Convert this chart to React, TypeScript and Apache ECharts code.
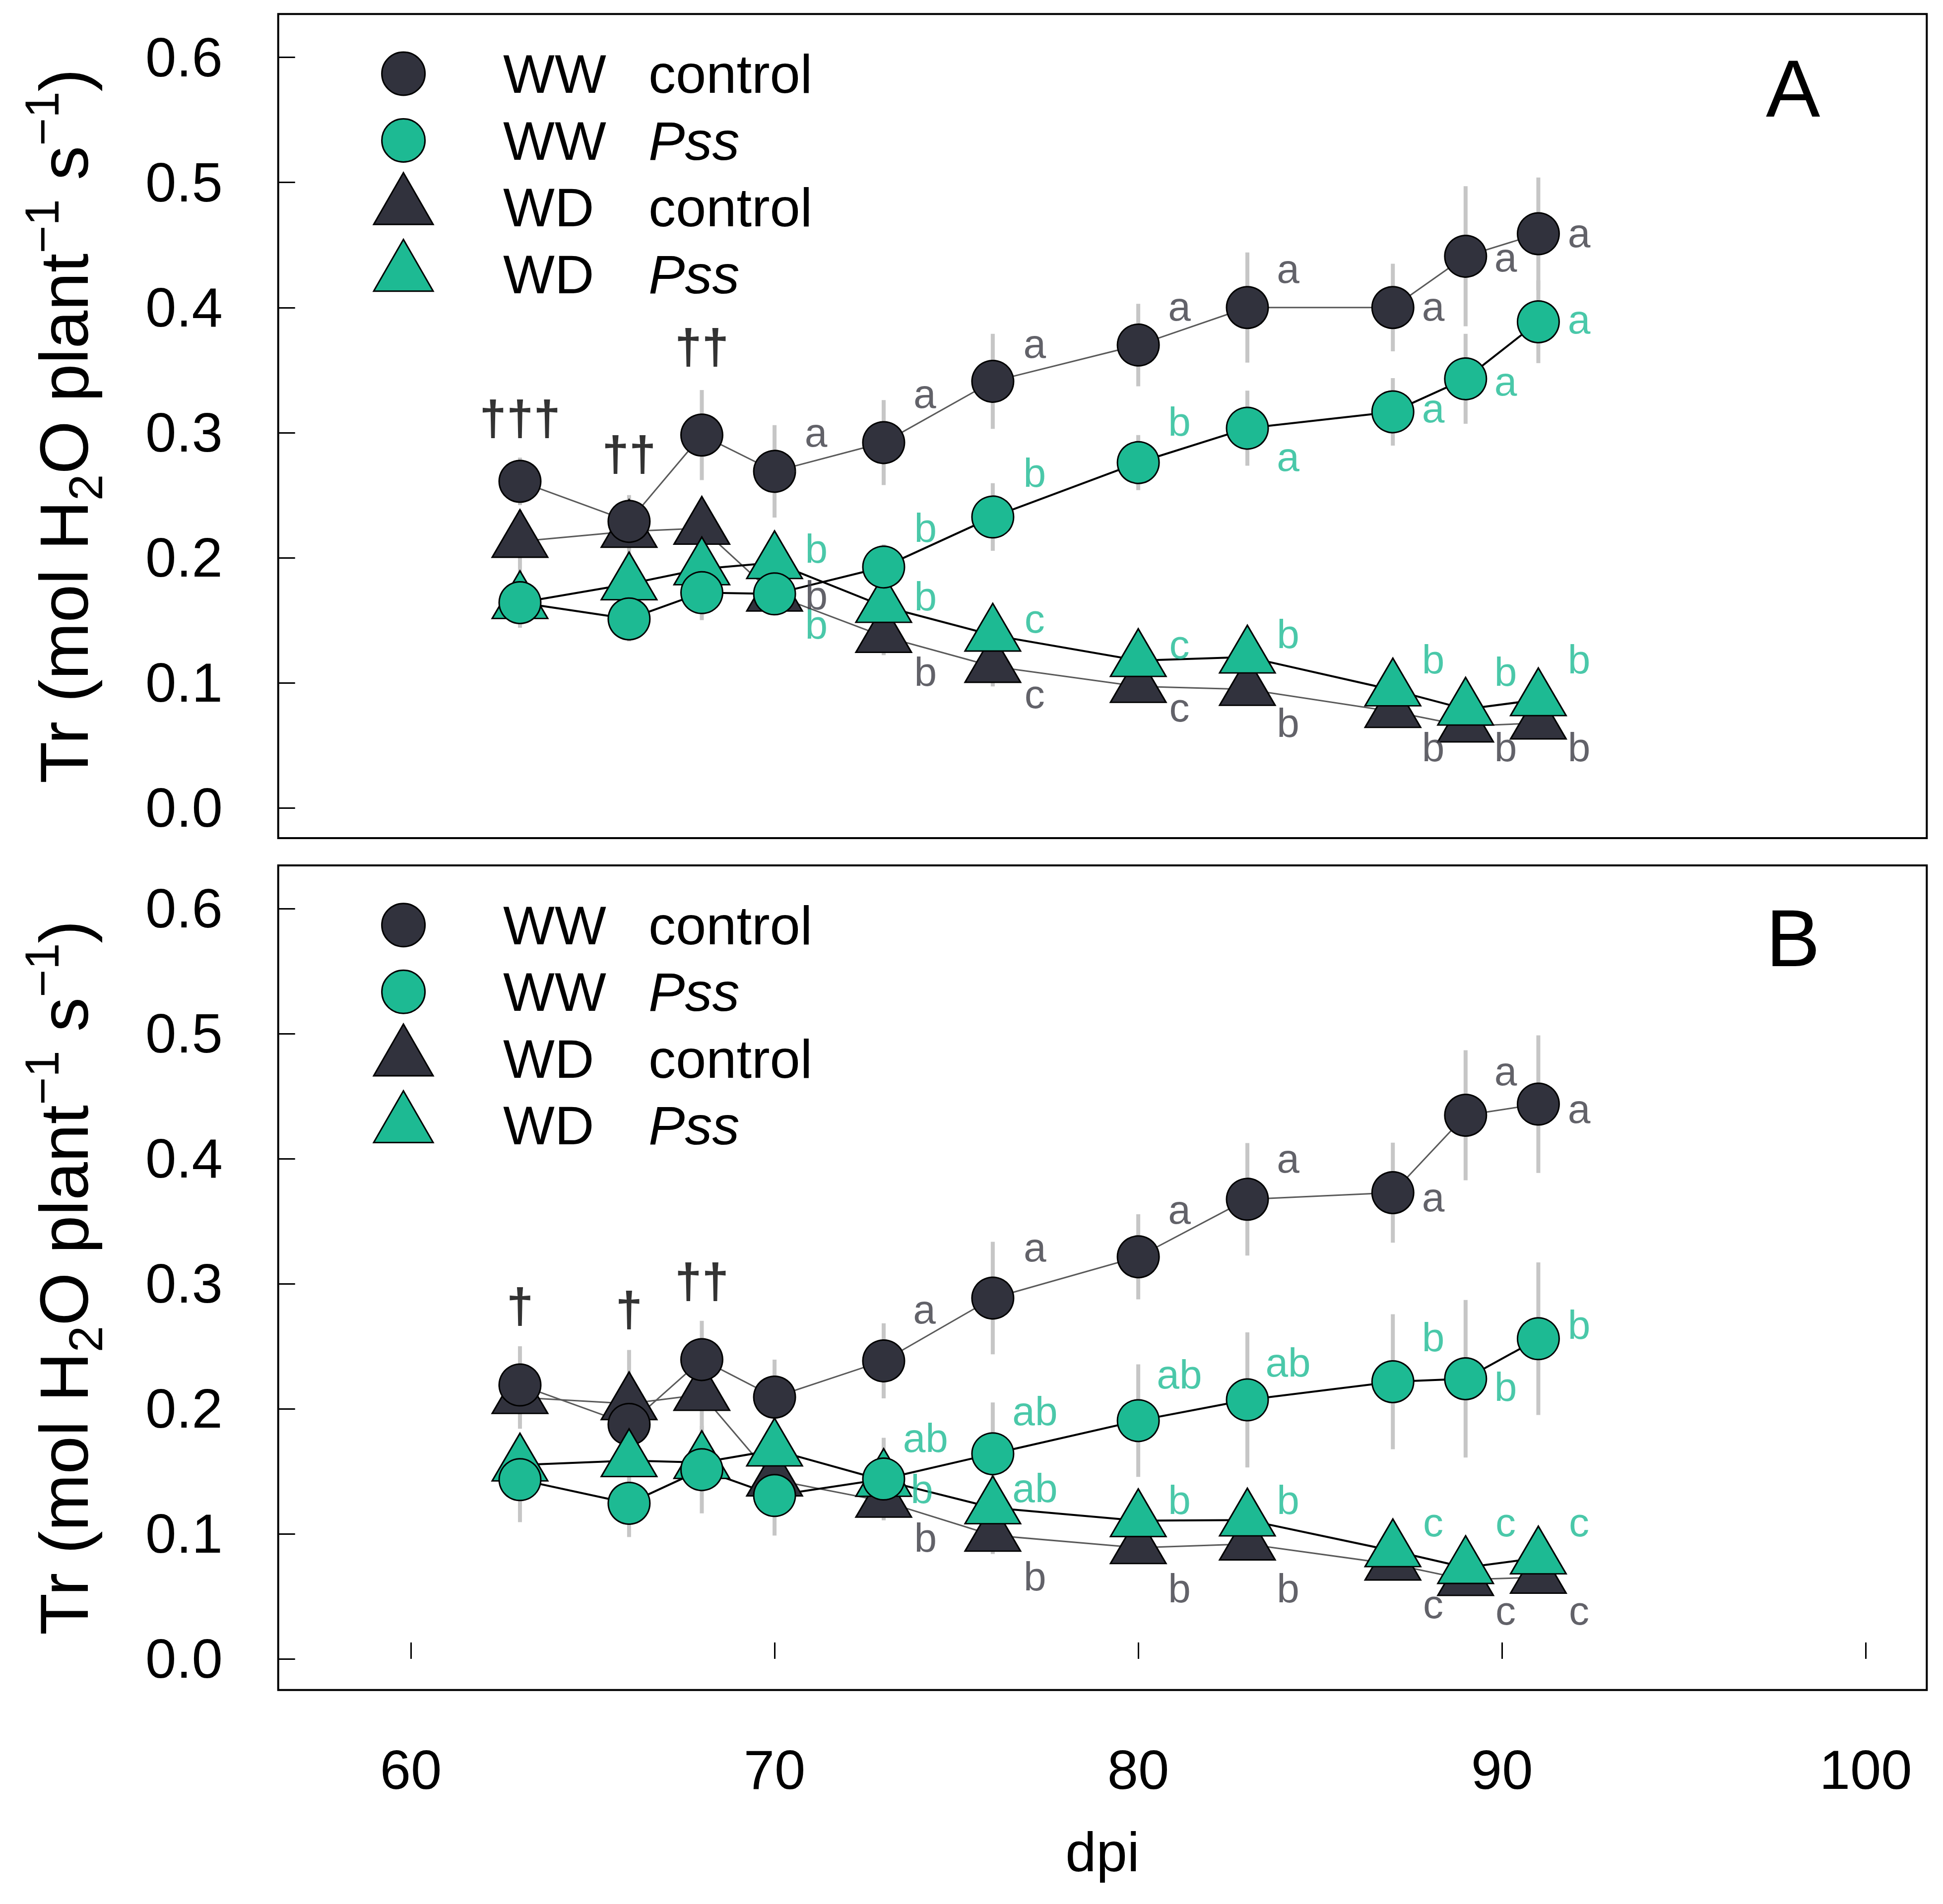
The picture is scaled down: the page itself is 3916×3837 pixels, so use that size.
import React, { useEffect, useRef } from 'react';
import * as echarts from 'echarts';

// ---------- data ----------
const DPI = [63, 66, 68, 70, 73, 76, 80, 83, 87, 89, 91];

// Panel A
const A_WW_CONTROL = [0.261, 0.229, 0.298, 0.269, 0.292, 0.341, 0.370, 0.400, 0.400, 0.441, 0.459];
const A_WW_CONTROL_ERR = [0.019, 0.021, 0.036, 0.037, 0.034, 0.038, 0.033, 0.044, 0.035, 0.056, 0.045];
const A_WW_PSS = [0.164, 0.151, 0.172, 0.171, 0.1925, 0.2325, 0.276, 0.3035, 0.3166, 0.343, 0.3886];
const A_WW_PSS_ERR = [0.020, 0.018, 0.022, 0.015, 0.018, 0.027, 0.022, 0.030, 0.027, 0.036, 0.033];
const A_WD_CONTROL = [0.213, 0.221, 0.2235, 0.170, 0.137, 0.113, 0.097, 0.0946, 0.0769, 0.0653, 0.0677];
const A_WD_CONTROL_ERR = [0.025, 0.02, 0.02, 0.015, 0.015, 0.016, 0.012, 0.012, 0.012, 0.01, 0.01];
const A_WD_PSS = [0.164, 0.179, 0.191, 0.196, 0.161, 0.138, 0.1177, 0.1205, 0.0942, 0.0788, 0.0864];
const A_WD_PSS_ERR = [0.015, 0.015, 0.015, 0.015, 0.015, 0.015, 0.012, 0.012, 0.01, 0.01, 0.01];

// Panel B
const B_WW_CONTROL = [0.219, 0.1875, 0.2393, 0.2093, 0.2383, 0.2885, 0.3215, 0.3675, 0.3728, 0.4347, 0.4436];
const B_WW_CONTROL_ERR = [0.031, 0.025, 0.031, 0.030, 0.030, 0.045, 0.034, 0.045, 0.040, 0.052, 0.055];
const B_WW_PSS = [0.1433, 0.1244, 0.1513, 0.1306, 0.1438, 0.164, 0.1905, 0.2071, 0.2216, 0.224, 0.256];
const B_WW_PSS_ERR = [0.034, 0.027, 0.035, 0.032, 0.033, 0.041, 0.045, 0.054, 0.054, 0.063, 0.061];
const B_WD_CONTROL = [0.209, 0.204, 0.2114, 0.143, 0.126, 0.0988, 0.0889, 0.0918, 0.0757, 0.0634, 0.0652];
const B_WD_CONTROL_ERR = [0.025, 0.043, 0.03, 0.02, 0.015, 0.015, 0.012, 0.012, 0.01, 0.01, 0.01];
const B_WD_PSS = [0.155, 0.1585, 0.157, 0.167, 0.1427, 0.1208, 0.1105, 0.111, 0.0864, 0.073, 0.0807];
const B_WD_PSS_ERR = [0.02, 0.02, 0.02, 0.02, 0.02, 0.015, 0.012, 0.012, 0.01, 0.01, 0.01];

// Annotation letters [dpi, value, text]
const A_LETTERS_DARK: [number, number, string][] = [
  [71.14, 0.300, 'a'], [74.13, 0.331, 'a'], [77.15, 0.371, 'a'], [81.13, 0.401, 'a'],
  [84.12, 0.431, 'a'], [88.11, 0.401, 'a'], [90.1, 0.440, 'a'], [92.12, 0.4596, 'a'],
  [71.15, 0.170, 'b'], [74.15, 0.1088, 'b'], [77.15, 0.0911, 'c'], [81.13, 0.0804, 'c'],
  [84.12, 0.068, 'b'], [88.11, 0.0485, 'b'], [90.1, 0.0485, 'b'], [92.12, 0.0485, 'b'],
];
const A_LETTERS_TEAL: [number, number, string][] = [
  [71.15, 0.2074, 'b'], [71.15, 0.1465, 'b'], [74.15, 0.2239, 'b'], [74.15, 0.169, 'b'],
  [77.15, 0.268, 'b'], [77.15, 0.1513, 'c'], [81.13, 0.309, 'b'], [81.13, 0.1308, 'c'],
  [84.12, 0.2806, 'a'], [84.12, 0.1389, 'b'], [88.11, 0.3196, 'a'], [88.11, 0.1187, 'b'],
  [90.1, 0.3409, 'a'], [90.1, 0.1088, 'b'], [92.12, 0.3905, 'a'], [92.12, 0.1187, 'b'],
];
const A_DAGGERS: [number, number, string][] = [
  [63, 0.3118, '†††'], [66, 0.2834, '††'], [68, 0.3688, '††'],
];

const B_LETTERS_DARK: [number, number, string][] = [
  [74.12, 0.2796, 'a'], [77.16, 0.3292, 'a'], [81.13, 0.3593, 'a'], [84.12, 0.4001, 'a'],
  [88.11, 0.3692, 'a'], [90.1, 0.4699, 'a'], [92.12, 0.4398, 'a'],
  [74.15, 0.0971, 'b'], [77.16, 0.066, 'b'], [81.13, 0.0564, 'b'], [84.12, 0.0564, 'b'],
  [88.11, 0.044, 'c'], [90.1, 0.0387, 'c'], [92.12, 0.0387, 'c'],
];
const B_LETTERS_TEAL: [number, number, string][] = [
  [74.15, 0.1769, 'ab'], [74.05, 0.136, 'b'], [77.16, 0.1981, 'ab'], [77.16, 0.1368, 'ab'],
  [81.13, 0.2275, 'ab'], [81.13, 0.1273, 'b'], [84.12, 0.2371, 'ab'], [84.12, 0.1273, 'b'],
  [88.11, 0.2573, 'b'], [88.11, 0.1095, 'c'], [90.1, 0.2176, 'b'], [90.1, 0.1095, 'c'],
  [92.12, 0.2672, 'b'], [92.12, 0.1095, 'c'],
];
const B_DAGGERS: [number, number, string][] = [
  [63, 0.2826, '†'], [66, 0.2796, '†'], [68, 0.3024, '††'],
];

const SERIES_NAMES = ['WW control', 'WW Pss', 'WD control', 'WD Pss'];
const PANEL_LETTERS = ['A', 'B'];
const X_TICK_LABELS = ['60', '70', '80', '90', '100'];

// ---------- styles ----------
const FONT = '"Liberation Sans", Arial, Helvetica, sans-serif';
const DARK = '#31323d';
const TEAL = '#1dba93';
const DARK_TEXT = '#3b3b44';
const ERR_COLOR = '#c6c6c6';

const CIRCLE_ICON =
  'path://M1,0A1,1,0,1,1,-1,0A1,1,0,1,1,1,0Z M-1.379,-1.598L-1.379,-1.598 M1.379,1.598L1.379,1.598';
const TRI_ICON = 'path://M0,0L1.15,2L-1.15,2Z M0,2.667L0,2.667';

const GRID_LEFT = 560.7;
const GRID_WIDTH = 3322.6;
const GRIDS = [
  { top: 28.3, height: 1660.7, ymin: -0.0243, ymax: 0.6347 },
  { top: 1744, height: 1661.7, ymin: -0.0249, ymax: 0.6345 },
];
const X_MIN = 56.353;
const X_MAX = 101.68;

type SetDef = { name: string; y: number[]; err: number[]; shape: 'circle' | 'triangle'; fill: string; line: string; lw: number };

function panelSets(p: number): SetDef[] {
  const d = p === 0
    ? { wwc: A_WW_CONTROL, wwce: A_WW_CONTROL_ERR, wwp: A_WW_PSS, wwpe: A_WW_PSS_ERR, wdc: A_WD_CONTROL, wdce: A_WD_CONTROL_ERR, wdp: A_WD_PSS, wdpe: A_WD_PSS_ERR }
    : { wwc: B_WW_CONTROL, wwce: B_WW_CONTROL_ERR, wwp: B_WW_PSS, wwpe: B_WW_PSS_ERR, wdc: B_WD_CONTROL, wdce: B_WD_CONTROL_ERR, wdp: B_WD_PSS, wdpe: B_WD_PSS_ERR };
  // drawing order: WD control, WW control, WD Pss, WW Pss
  return [
    { name: SERIES_NAMES[2], y: d.wdc, err: d.wdce, shape: 'triangle', fill: DARK, line: '#5a5a5a', lw: 3 },
    { name: SERIES_NAMES[0], y: d.wwc, err: d.wwce, shape: 'circle', fill: DARK, line: '#5a5a5a', lw: 3 },
    { name: SERIES_NAMES[3], y: d.wdp, err: d.wdpe, shape: 'triangle', fill: TEAL, line: '#000000', lw: 4 },
    { name: SERIES_NAMES[1], y: d.wwp, err: d.wwpe, shape: 'circle', fill: TEAL, line: '#000000', lw: 4 },
  ];
}

function annotationSeries(p: number, items: [number, number, string][], color: string, size: number, bold: boolean) {
  return {
    type: 'scatter',
    xAxisIndex: p,
    yAxisIndex: p,
    silent: true,
    z: 6,
    symbol: 'circle',
    symbolSize: 1,
    itemStyle: { color: 'rgba(0,0,0,0)' },
    emphasis: { disabled: true },
    data: items.map(([x, y, t]) => ({ name: t, value: [x, y] })),
    label: {
      show: true,
      position: 'inside',
      formatter: '{b}',
      fontSize: size,
      fontFamily: FONT,
      fontWeight: bold ? 'bold' : 'normal',
      color,
    },
  };
}

function buildOption() {
  const series: any[] = [];
  for (let p = 0; p < 2; p++) {
    const sets = panelSets(p);
    // error bars
    sets.forEach((s) => {
      series.push({
        type: 'custom',
        xAxisIndex: p,
        yAxisIndex: p,
        silent: true,
        z: 1,
        data: DPI.map((x, i) => [x, s.y[i], s.err[i]]),
        encode: { x: 0, y: 1 },
        renderItem: (params: any, api: any) => {
          const x = api.value(0);
          const y = api.value(1);
          const e = api.value(2);
          const p1 = api.coord([x, y - e]);
          const p2 = api.coord([x, y + e]);
          return {
            type: 'line',
            shape: { x1: p1[0], y1: p1[1], x2: p2[0], y2: p2[1] },
            style: { stroke: ERR_COLOR, lineWidth: 8 },
          };
        },
      });
    });
    // connecting lines
    sets.forEach((s) => {
      series.push({
        type: 'line',
        xAxisIndex: p,
        yAxisIndex: p,
        silent: true,
        z: 2,
        symbol: 'none',
        showSymbol: false,
        data: DPI.map((x, i) => [x, s.y[i]]),
        lineStyle: { color: s.line, width: s.lw },
        emphasis: { disabled: true },
      });
    });
    // markers
    sets.forEach((s) => {
      const tri = s.shape === 'triangle';
      series.push({
        type: 'scatter',
        name: s.name,
        xAxisIndex: p,
        yAxisIndex: p,
        silent: true,
        z: 3,
        symbol: tri ? 'triangle' : 'circle',
        symbolSize: tri ? [112, 96] : 84,
        symbolOffset: tri ? [0, -16] : [0, 0],
        itemStyle: { color: s.fill, borderColor: '#000', borderWidth: 3, opacity: 1 },
        emphasis: { disabled: true },
        data: DPI.map((x, i) => [x, s.y[i]]),
      });
    });
    series.push(annotationSeries(p, p === 0 ? A_LETTERS_DARK : B_LETTERS_DARK, DARK_TEXT, 82, false));
    series.push(annotationSeries(p, p === 0 ? A_LETTERS_TEAL : B_LETTERS_TEAL, TEAL, 82, false));
    series.push(annotationSeries(p, p === 0 ? A_DAGGERS : B_DAGGERS, '#000', 98, true));
  }

  const yName = '{n|Tr (mol H}{sub|2}{n|O plant}{sup|\u22121}{n| s}{sup|\u22121}{n|)}';
  const nameRich = {
    n: { fontSize: 138, fontFamily: FONT, color: '#000', lineHeight: 184, verticalAlign: 'middle' },
    sub: { fontSize: 96, fontFamily: FONT, color: '#000', lineHeight: 96, verticalAlign: 'bottom' },
    sup: { fontSize: 96, fontFamily: FONT, color: '#000', lineHeight: 96, verticalAlign: 'top' },
  };

  const legendData = [
    { name: SERIES_NAMES[0], icon: CIRCLE_ICON },
    { name: SERIES_NAMES[1], icon: CIRCLE_ICON },
    { name: SERIES_NAMES[2], icon: TRI_ICON },
    { name: SERIES_NAMES[3], icon: TRI_ICON },
  ];
  const legendText = { fontSize: 110, fontFamily: FONT, color: '#000', lineHeight: 120 };

  return {
    animation: false,
    backgroundColor: '#ffffff',
    grid: GRIDS.map((g) => ({
      left: GRID_LEFT,
      top: g.top,
      width: GRID_WIDTH,
      height: g.height,
      show: true,
      borderColor: '#000',
      borderWidth: 4,
      backgroundColor: 'transparent',
      containLabel: false,
      outerBoundsMode: 'none',
    })),
    xAxis: GRIDS.map((g, i) => ({
      type: 'value',
      gridIndex: i,
      min: X_MIN,
      max: X_MAX,
      splitNumber: 4,
      minInterval: 10,
      maxInterval: 10,
      axisLine: { show: false },
      splitLine: { show: false },
      axisTick: { show: i === 1, inside: true, length: 33, lineStyle: { color: '#000', width: 3 } },
      axisLabel: {
        show: i === 1,
        margin: 105,
        fontSize: 112,
        fontFamily: FONT,
        color: '#000',
        formatter: (v: number) => {
          const s = String(Math.round(v));
          return Math.abs(v - Math.round(v)) < 1e-6 && X_TICK_LABELS.includes(s) ? s : '';
        },
      },
      name: i === 1 ? 'dpi' : '',
      nameLocation: 'middle',
      nameGap: 271,
      nameTextStyle: { fontSize: 112, fontFamily: FONT, color: '#000' },
    })),
    yAxis: GRIDS.map((g, i) => ({
      type: 'value',
      gridIndex: i,
      min: g.ymin,
      max: g.ymax,
      splitNumber: 6,
      minInterval: 0.1,
      maxInterval: 0.1,
      axisLine: { show: false },
      splitLine: { show: false },
      axisTick: { show: true, inside: true, length: 34, lineStyle: { color: '#000', width: 3 } },
      axisLabel: {
        margin: 112,
        fontSize: 112,
        fontFamily: FONT,
        color: '#000',
        formatter: (v: number) => {
          const r = Math.round(v * 10);
          return Math.abs(v * 10 - r) < 1e-6 && r >= 0 && r <= 6 ? (r / 10).toFixed(1) : '';
        },
      },
      name: yName,
      nameLocation: 'middle',
      nameGap: 340,
      nameTextStyle: { fontSize: 138, fontFamily: FONT, color: '#000', lineHeight: 184, rich: nameRich },
    })),
    legend: GRIDS.map((g, i) => ({
      show: true,
      orient: 'vertical',
      left: 746.6,
      top: i === 0 ? 72.5 : 1788.2,
      itemWidth: 120,
      itemHeight: 139,
      itemGap: -7.5,
      selectedMode: false,
      data: legendData,
      itemStyle: { borderColor: '#000', borderWidth: 3 },
      formatter: (name: string) => {
        const parts = name.split(' ');
        const second = parts[1] === 'Pss' ? `{i|${parts[1]}}` : `{b|${parts[1]}}`;
        return `{s| }{a|${parts[0]}}${second}`;
      },
      textStyle: {
        ...legendText,
        rich: {
          s: { ...legendText, width: 136 },
          a: { ...legendText, width: 293 },
          b: { ...legendText },
          i: { ...legendText, fontStyle: 'italic' },
        },
      },
    })),
    graphic: GRIDS.map((g, i) => ({
      type: 'text',
      x: 3613.7,
      y: i === 0 ? 178.6 : 1890.5,
      silent: true,
      style: {
        text: PANEL_LETTERS[i],
        fontSize: 164,
        fontFamily: FONT,
        fill: '#000',
        align: 'center',
        verticalAlign: 'middle',
        textAlign: 'center',
        textVerticalAlign: 'middle',
      },
    })),
    series,
  };
}

export default function App() {
  const ref = useRef<HTMLDivElement>(null);
  useEffect(() => {
    if (!ref.current) return;
    const chart = echarts.init(ref.current, null, { renderer: 'svg' });
    chart.setOption(buildOption() as any);
    return () => {
      chart.dispose();
    };
  }, []);
  return (
    <div
      ref={ref}
      style={{ position: 'absolute', left: 0, top: 0, width: 3916, height: 3837, background: '#ffffff' }}
    />
  );
}
